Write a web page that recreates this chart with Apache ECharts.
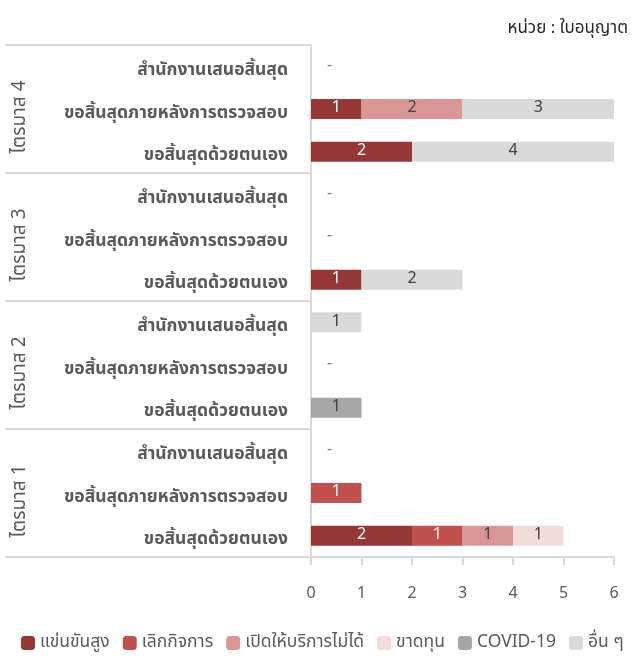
<!DOCTYPE html>
<html><head><meta charset="utf-8">
<script src="https://cdn.jsdelivr.net/npm/echarts@6/dist/echarts.min.js"></script>
<style>html,body{margin:0;padding:0;background:#fff}#c{width:633px;height:659px}</style>
</head><body><div id="c"></div>
<script>
// categories bottom -> top
const subCats = ['ขอสิ้นสุดด้วยตนเอง', 'ขอสิ้นสุดภายหลังการตรวจสอบ', 'สำนักงานเสนอสิ้นสุด'];
const quarters = ['ไตรมาส 1', 'ไตรมาส 2', 'ไตรมาส 3', 'ไตรมาส 4'];
const seriesNames = ['แข่นขันสูง', 'เลิกกิจการ', 'เปิดให้บริการไม่ได้', 'ขาดทุน', 'COVID-19', 'อื่น ๆ'];
const seriesColors = ['#953735', '#C0504D', '#D99694', '#F2DCDB', '#A6A6A6', '#D9D9D9'];
const labelColors = ['#ffffff', '#ffffff', '#404040', '#404040', '#404040', '#404040'];
// rows: Q1 (ตนเอง, ภายหลัง, สำนักงาน), Q2 (...), Q3 (...), Q4 (...)
const competition = [2, 0, 0,  0, 0, 0,  1, 0, 0,  2, 1, 0];
const closed      = [1, 1, 0,  0, 0, 0,  0, 0, 0,  0, 0, 0];
const cannotOpen  = [1, 0, 0,  0, 0, 0,  0, 0, 0,  0, 2, 0];
const loss        = [1, 0, 0,  0, 0, 0,  0, 0, 0,  0, 0, 0];
const covid       = [0, 0, 0,  1, 0, 0,  0, 0, 0,  0, 0, 0];
const others      = [0, 0, 0,  0, 0, 1,  2, 0, 0,  4, 3, 0];
const xTicks = [0, 1, 2, 3, 4, 5, 6];
const unitText = 'หน่วย : ใบอนุญาต';

const allData = [competition, closed, cannotOpen, loss, covid, others];
const cats = [];
quarters.forEach(() => subCats.forEach(s => cats.push(s)));
const totals = cats.map((_, i) => allData.reduce((a, d) => a + d[i], 0));

const FONT = 'Tahoma, "Noto Sans Thai", "Noto Sans", sans-serif';
const series = allData.map((d, k) => ({
  name: seriesNames[k], type: 'bar', stack: 'all', barWidth: 20,
  itemStyle: { color: seriesColors[k] },
  label: { show: true, position: 'inside', color: labelColors[k], fontSize: 16, fontFamily: FONT,
    formatter: p => p.value > 0 ? String(p.value) : '' },
  data: d.map(v => v === 0 ? null : v)
}));
series.push({
  name: 'zero', type: 'scatter', symbolSize: 0, silent: true,
  label: { show: true, position: 'right', distance: 16, formatter: '-', color: '#595959', fontSize: 16, fontFamily: FONT },
  data: totals.map((t, i) => t === 0 ? [0, i] : null).filter(Boolean)
});

const chart = echarts.init(document.getElementById('c'));
chart.setOption({
  animation: false,
  textStyle: { fontFamily: FONT },
  title: { text: unitText, right: 0, top: 16, textStyle: { fontSize: 17, fontWeight: 'normal', color: '#262626', fontFamily: FONT } },
  legend: {
    bottom: 2, left: 16, itemWidth: 14, itemHeight: 14, itemGap: 13,
    data: seriesNames, textStyle: { fontSize: 17.5, color: '#595959', fontFamily: FONT }
  },
  grid: { left: 311, right: 19, top: 45, bottom: 102, containLabel: false },
  xAxis: {
    type: 'value', min: 0, max: 6, interval: 1,
    axisLine: { show: true, lineStyle: { color: '#D9D9D9', width: 2 } },
    axisTick: { show: true, length: 8, lineStyle: { color: '#D9D9D9', width: 2 } },
    splitLine: { show: false },
    axisLabel: { fontSize: 16, color: '#595959', margin: 30, formatter: v => xTicks.includes(v) ? String(v) : '' }
  },
  yAxis: [{
    type: 'category', data: cats,
    axisLine: { show: true, lineStyle: { color: '#D9D9D9', width: 2 } },
    axisTick: { show: false },
    axisLabel: { interval: 0, fontSize: 17.5, fontWeight: 'bold', color: '#595959', margin: 23,
      formatter: v => '{a|' + v + '}',
      rich: { a: { fontSize: 17.5, fontWeight: 'bold', color: '#595959', fontFamily: FONT, padding: [10, 0, 0, 0] } } }
  }, {
    type: 'category', data: quarters, position: 'left',
    axisLine: { show: false },
    axisTick: { show: true, interval: 0, length: 306, lineStyle: { color: '#D9D9D9', width: 2 } },
    axisLabel: { interval: 0, rotate: 90, fontSize: 19, color: '#595959', margin: 280,
      formatter: v => '{q|' + v + '}',
      rich: { q: { fontSize: 19, color: '#595959', fontFamily: FONT, padding: [0, 16, 0, 0] } } }
  }],
  series: series
});
</script></body></html>
